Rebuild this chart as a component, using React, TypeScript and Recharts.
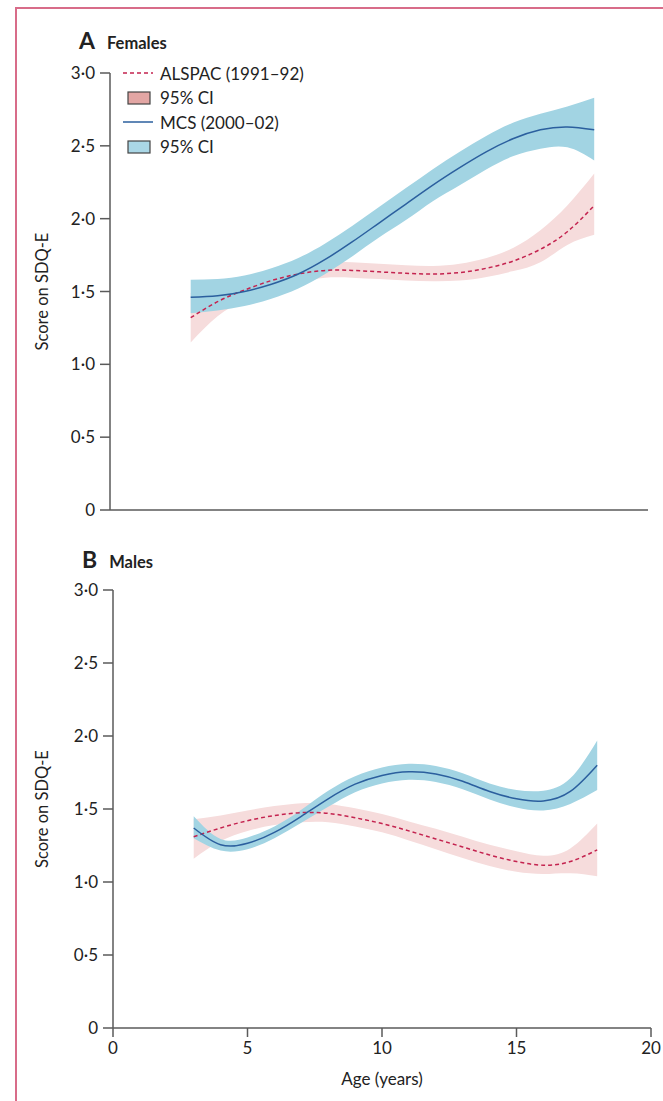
import React from "react";
import { Area, ComposedChart, Legend, Line, XAxis, YAxis } from "recharts";

const FONT = "Lato, 'Open Sans', sans-serif";

const AGES = [3, 4, 5, 6, 7, 8, 9, 10, 11, 12, 13, 14, 15, 16, 17, 18];

// Females (panel A)
const F_MCS = [1.46, 1.47, 1.5, 1.55, 1.62, 1.72, 1.84, 1.97, 2.1, 2.23, 2.35, 2.46, 2.55, 2.61, 2.63, 2.61];
const F_MCS_LO = [1.35, 1.37, 1.4, 1.45, 1.52, 1.62, 1.74, 1.87, 1.99, 2.12, 2.23, 2.34, 2.43, 2.48, 2.49, 2.4];
const F_MCS_HI = [1.58, 1.585, 1.61, 1.66, 1.73, 1.83, 1.95, 2.08, 2.21, 2.34, 2.46, 2.57, 2.66, 2.72, 2.77, 2.83];
const F_ALS = [1.32, 1.43, 1.51, 1.575, 1.62, 1.645, 1.645, 1.635, 1.625, 1.62, 1.63, 1.66, 1.71, 1.79, 1.91, 2.09];
const F_ALS_LO = [1.15, 1.33, 1.44, 1.515, 1.565, 1.595, 1.595, 1.585, 1.575, 1.57, 1.575, 1.6, 1.64, 1.7, 1.82, 1.89];
const F_ALS_HI = [1.49, 1.53, 1.58, 1.635, 1.675, 1.7, 1.7, 1.69, 1.68, 1.675, 1.69, 1.73, 1.8, 1.92, 2.09, 2.31];

// Males (panel B)
const M_MCS = [1.37, 1.255, 1.265, 1.34, 1.45, 1.57, 1.67, 1.73, 1.755, 1.74, 1.69, 1.62, 1.57, 1.555, 1.62, 1.8];
const M_MCS_LO = [1.3, 1.215, 1.225, 1.3, 1.405, 1.515, 1.615, 1.675, 1.7, 1.685, 1.635, 1.565, 1.51, 1.49, 1.535, 1.63];
const M_MCS_HI = [1.45, 1.295, 1.305, 1.38, 1.495, 1.625, 1.725, 1.785, 1.81, 1.795, 1.745, 1.675, 1.63, 1.625, 1.71, 1.97];
const M_ALS = [1.31, 1.37, 1.42, 1.455, 1.475, 1.47, 1.44, 1.4, 1.35, 1.295, 1.24, 1.185, 1.14, 1.115, 1.14, 1.22];
const M_ALS_LO = [1.16, 1.28, 1.35, 1.39, 1.41, 1.41, 1.38, 1.34, 1.285, 1.225, 1.165, 1.11, 1.07, 1.055, 1.06, 1.04];
const M_ALS_HI = [1.43, 1.455, 1.49, 1.52, 1.54, 1.535, 1.505, 1.465, 1.415, 1.365, 1.31, 1.255, 1.21, 1.18, 1.23, 1.4];

const X_TICKS = [0, 5, 10, 15, 20];
const Y_TICKS = [0, 0.5, 1, 1.5, 2, 2.5, 3];
const LEGEND_LABELS = ["ALSPAC (1991–92)", "95% CI", "MCS (2000–02)", "95% CI"];

const C_ALS = "#c4234f";
const C_ALS_BAND = "#f6dcdc";
const C_ALS_BOX = "#e3a6a4";
const C_MCS = "#2b5f9e";
const C_MCS_BAND = "#a2d4e3";
const C_MCS_BOX = "#aad7e6";
const C_AXIS = "#5a5a5a";
const C_TEXT = "#222";
const C_FRAME = "#d86c89";

function buildRows(mcs: number[], mcsLo: number[], mcsHi: number[], als: number[], alsLo: number[], alsHi: number[]) {
  return AGES.map((age, i) => ({
    age,
    mcs: mcs[i],
    mcsBand: [mcsLo[i], mcsHi[i]],
    als: als[i],
    alsBand: [alsLo[i], alsHi[i]],
  }));
}

const femaleRows = buildRows(F_MCS, F_MCS_LO, F_MCS_HI, F_ALS, F_ALS_LO, F_ALS_HI);
const maleRows = buildRows(M_MCS, M_MCS_LO, M_MCS_HI, M_ALS, M_ALS_LO, M_ALS_HI);

const fmtY = (v: number) => (v === 0 ? "0" : v.toFixed(1).replace(".", "·"));
const tickStyle = { fontFamily: FONT, fontSize: 17, fill: C_TEXT };

const yLabel = (props: any) => {
  const vb = props.viewBox || {};
  const cx = 42;
  const cy = (vb.y ?? 0) + (vb.height ?? 0) / 2;
  return (
    <text
      x={cx}
      y={cy}
      transform={`rotate(-90, ${cx}, ${cy})`}
      textAnchor="middle"
      dominantBaseline="central"
      fontFamily={FONT}
      fontSize={16.5}
      fill={C_TEXT}
    >
      Score on SDQ-E
    </text>
  );
};

function LegendBlock() {
  const marks = [
    <line x1={1} x2={31} y1={8} y2={8} stroke={C_ALS} strokeWidth={1.5} strokeDasharray="4 3" />,
    <rect x={6} y={2} width={22} height={12} fill={C_ALS_BOX} stroke="#444" strokeWidth={1.2} />,
    <line x1={1} x2={31} y1={8} y2={8} stroke={C_MCS} strokeWidth={1.5} />,
    <rect x={6} y={2} width={22} height={12} fill={C_MCS_BOX} stroke="#444" strokeWidth={1.2} />,
  ];
  return (
    <div style={{ fontFamily: FONT, fontSize: 17, color: C_TEXT }}>
      {LEGEND_LABELS.map((label, i) => (
        <div key={i} style={{ display: "flex", alignItems: "center", height: 24.5 }}>
          <svg width={32} height={16}>{marks[i]}</svg>
          <span style={{ marginLeft: 6, whiteSpace: "nowrap" }}>{label}</span>
        </div>
      ))}
    </div>
  );
}

function Panel({ rows, height, margin, xAxisHeight, showXLabels, showLegend }: any) {
  return (
    <ComposedChart width={663} height={height} data={rows} margin={margin}>
      <XAxis
        dataKey="age"
        type="number"
        domain={[0, 20]}
        ticks={X_TICKS}
        height={xAxisHeight}
        stroke={C_AXIS}
        strokeWidth={1.5}
        tickSize={9}
        tickMargin={5}
        tick={showXLabels ? tickStyle : false}
        label={
          showXLabels
            ? { value: "Age (years)", position: "insideBottom", offset: 16, style: { fontFamily: FONT, fontSize: 17, fill: C_TEXT } }
            : undefined
        }
      />
      <YAxis
        type="number"
        domain={[0, 3]}
        ticks={Y_TICKS}
        width={80}
        stroke={C_AXIS}
        strokeWidth={1.5}
        tickSize={10}
        tickMargin={5}
        tick={tickStyle}
        tickFormatter={fmtY}
        label={{ content: yLabel }}
      />
      {showLegend && (
        <Legend
          content={() => <LegendBlock />}
          layout="horizontal"
          verticalAlign="middle"
          align="center"
          wrapperStyle={{ top: 61, left: 122, width: "auto" }}
        />
      )}
      <Area
        type="natural"
        dataKey="alsBand"
        stroke="none"
        fill={C_ALS_BAND}
        fillOpacity={1}
        dot={false}
        activeDot={false}
        isAnimationActive={false}
      />
      <Area
        type="natural"
        dataKey="mcsBand"
        stroke="none"
        fill={C_MCS_BAND}
        fillOpacity={1}
        dot={false}
        activeDot={false}
        isAnimationActive={false}
      />
      <Line
        type="natural"
        dataKey="als"
        stroke={C_ALS}
        strokeWidth={1.5}
        strokeDasharray="4 3"
        dot={false}
        activeDot={false}
        isAnimationActive={false}
      />
      <Line
        type="natural"
        dataKey="mcs"
        stroke={C_MCS}
        strokeWidth={1.5}
        dot={false}
        activeDot={false}
        isAnimationActive={false}
      />
    </ComposedChart>
  );
}

function Title({ letter, text, left, top }: { letter: string; text: string; left: number; top: number }) {
  return (
    <div
      style={{
        position: "absolute",
        left,
        top,
        display: "flex",
        alignItems: "baseline",
        fontFamily: FONT,
        fontWeight: 700,
        color: C_TEXT,
        lineHeight: "22px",
      }}
    >
      <span style={{ fontSize: 23 }}>{letter}</span>
      <span style={{ fontSize: 16.5, marginLeft: 12 }}>{text}</span>
    </div>
  );
}

export default function App() {
  return (
    <div style={{ position: "absolute", left: 0, top: 0, width: 663, height: 1101, background: "#fff" }}>
      <div
        style={{
          position: "absolute",
          left: 15,
          top: 7,
          width: 648,
          height: 1094,
          borderLeft: `2px solid ${C_FRAME}`,
          borderTop: `2px solid ${C_FRAME}`,
        }}
      />
      <div style={{ position: "absolute", left: 0, top: 0 }}>
        <Panel
          rows={femaleRows}
          height={540}
          margin={{ top: 73, right: 15, bottom: 0, left: 30 }}
          xAxisHeight={30}
          showXLabels={false}
          showLegend
        />
      </div>
      <div style={{ position: "absolute", left: 0, top: 540 }}>
        <Panel
          rows={maleRows}
          height={561}
          margin={{ top: 50, right: 12, bottom: 0, left: 33 }}
          xAxisHeight={73}
          showXLabels
          showLegend={false}
        />
      </div>
      <Title letter="A" text="Females" left={79} top={29} />
      <Title letter="B" text="Males" left={82} top={548} />
    </div>
  );
}
